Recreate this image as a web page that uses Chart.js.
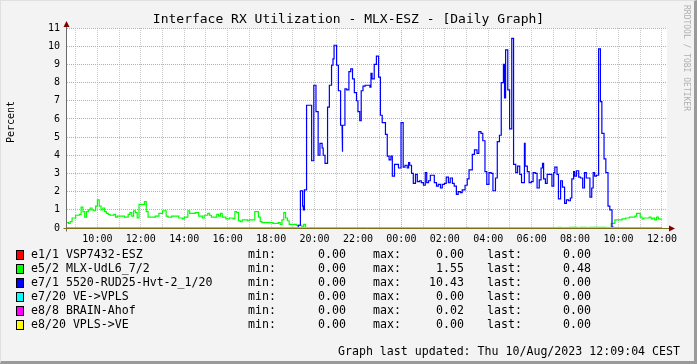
<!DOCTYPE html>
<html><head><meta charset="utf-8">
<script src="https://cdn.jsdelivr.net/npm/chart.js@4/dist/chart.umd.min.js"></script>
<style>
html,body{margin:0;padding:0;}
body{width:697px;height:364px;background:#f3f3f3;position:relative;overflow:hidden;font-family:"DejaVu Sans Mono",monospace;color:#000;}
#frame{position:absolute;left:0;top:0;width:697px;height:364px;box-sizing:border-box;border-top:1px solid #e0e0e0;border-left:1px solid #e0e0e0;border-right:3px solid #9a9a9a;border-bottom:3px solid #9a9a9a;pointer-events:none;}
#c{position:absolute;left:0;top:0;}
.t{position:absolute;white-space:pre;line-height:14px;}
.box{position:absolute;width:6px;height:8px;border:1px solid #000;}
</style></head><body>
<canvas id="c" width="697" height="364"></canvas>
<div id="title" class="t" style="left:0;width:697px;text-align:center;top:11px;font-size:13px;line-height:16px;">Interface RX Utilization - MLX-ESZ - [Daily Graph]</div>
<div class="t" style="left:11px;top:122px;font-size:10px;transform:translate(-50%,-50%) rotate(-90deg);line-height:12px;">Percent</div>
<div class="t" style="left:681px;top:5px;font-size:8px;color:#b0b0b0;writing-mode:vertical-rl;line-height:10px;">RRDTOOL / TOBI OETIKER</div>
<div id="legend"></div>
<div class="t" style="right:17px;top:344px;font-size:11.6px;">Graph last updated: Thu 10/Aug/2023 12:09:04 CEST</div>
<div id="frame"></div>
<script>
// ---- data ----
const seriesLabels = ["e1/1 VSP7432-ESZ", "e5/2 MLX-UdL6_7/2", "e7/1 5520-RUD25-Hvt-2_1/20", "e7/20 VE->VPLS", "e8/8 BRAIN-Ahof", "e8/20 VPLS->VE"];
const seriesColors = ["#ff0000", "#00ff00", "#0000ff", "#00ffff", "#ff00ff", "#ffff00"];
const legendMin  = ["0.00", "0.00", "0.00", "0.00", "0.00", "0.00"];
const legendMax  = ["0.00", "1.55", "10.43", "0.00", "0.02", "0.00"];
const legendLast = ["0.00", "0.48", "0.00", "0.00", "0.00", "0.00"];

// segment boundaries (HH:MM, rolling into next day) and the value held in each segment
const redTimes  = ["08:35", "00:00", "12:00"];
const redValues = [0, 0];

const greenTimes = ["08:35","08:40","08:45","08:50","09:00","09:10","09:15","09:20","09:25","09:30","09:35","09:40","09:45","09:50","09:55","10:00","10:05","10:10","10:15","10:20","10:25","10:30","10:35","10:45","10:50","10:55","11:15","11:25","11:30","11:35","11:40","11:45","11:50","11:55","12:10","12:15","12:20","12:40","12:50","13:00","13:10","13:15","13:25","13:45","13:55","14:00","14:10","14:15","14:30","14:40","14:50","14:55","15:05","15:10","15:15","15:30","15:35","15:40","15:45","15:55","16:05","16:15","16:20","16:25","16:30","16:35","16:40","16:55","17:00","17:15","17:25","17:30","17:35","18:05","18:20","18:25","18:30","18:35","18:40","18:45","18:50","19:10","19:25","19:30","19:35","07:15","07:20","07:45","08:05","08:15","08:30","08:40","09:25","09:40","09:50","10:10","10:20","10:30","10:45","10:50","11:00","11:05","11:10","11:25","11:30","11:35","11:40","11:45","11:50","11:55","12:00"];
const greenValues = [0.3,0.25,0.35,0.55,0.7,0.75,1.15,0.9,0.6,0.9,1.0,1.1,1.0,0.95,1.2,1.55,1.2,1.0,1.1,0.9,0.8,0.75,0.7,0.75,0.6,0.65,0.6,0.75,0.85,0.65,0.95,0.85,0.55,1.3,1.45,0.9,0.6,0.65,0.8,0.95,0.65,0.6,0.65,0.55,0.5,0.6,0.95,0.8,0.85,0.65,0.55,0.7,0.8,0.7,0.6,0.75,0.65,0.8,0.6,0.5,0.55,0.5,0.9,0.85,0.4,0.35,0.45,0.4,0.45,0.9,0.6,0.35,0.3,0.25,0.3,0.2,0.45,0.85,0.55,0.4,0.2,0.15,0.05,0.2,0,0.04,0,0.04,0,0.04,0,0.04,0,0.25,0.45,0.5,0.55,0.6,0.65,0.8,0.6,0.5,0.55,0.6,0.5,0.55,0.45,0.6,0.5,0.48];

const blueTimes = ["08:35","19:15","19:21","19:27","19:29","19:32","19:38","19:52","19:58","20:04","20:10","20:15","20:21","20:24","20:29","20:36","20:41","20:47","20:51","20:54","21:01","21:06","21:12","21:16","21:18","21:24","21:29","21:35","21:40","21:45","21:50","21:56","22:00","22:05","22:09","22:14","22:20","22:33","22:36","22:39","22:45","22:51","22:57","23:02","23:07","23:16","23:21","23:26","23:31","23:35","23:41","23:52","23:59","00:05","00:10","00:16","00:20","00:23","00:28","00:33","00:39","00:44","00:50","00:55","01:01","01:06","01:10","01:15","01:20","01:31","01:37","01:42","01:48","01:53","01:59","02:04","02:10","02:15","02:21","02:26","02:32","02:37","02:43","02:48","02:56","03:02","03:07","03:16","03:22","03:29","03:34","03:40","03:45","03:51","03:56","04:02","04:08","04:13","04:20","04:25","04:31","04:36","04:42","04:45","04:48","04:54","04:59","05:05","05:10","05:16","05:21","05:27","05:32","05:40","05:42","05:48","05:53","05:59","06:04","06:10","06:15","06:21","06:26","06:30","06:33","06:38","06:43","06:56","07:01","07:04","07:10","07:14","07:20","07:25","07:31","07:36","07:42","07:47","07:51","07:56","07:59","08:04","08:10","08:15","08:21","08:26","08:31","08:41","08:46","08:50","08:54","08:59","09:05","09:10","09:14","09:20","09:25","09:31","09:36","09:42","09:45","12:00"];
const blueValues = [0,0.15,2.05,1.2,1.0,2.1,6.75,3.7,7.85,6.4,4.0,4.65,4.4,4.0,3.55,6.65,7.85,8.95,9.3,10.05,8.95,7.55,5.65,4.2,5.65,7.65,7.6,8.6,8.75,8.2,7.45,7.0,6.4,5.9,7.55,7.8,7.85,7.75,8.5,8.2,9.0,9.45,8.3,6.2,5.8,5.15,3.95,3.75,3.95,2.85,3.5,3.3,5.8,3.35,3.45,3.3,3.6,3.45,3.0,2.45,2.95,2.55,2.6,2.5,2.35,3.05,2.5,2.6,2.9,2.5,2.3,2.4,2.2,2.4,2.45,2.8,2.5,2.75,2.45,2.3,1.85,2.0,1.95,2.1,2.35,2.7,3.2,4.05,4.3,4.1,5.3,5.2,4.8,3.1,2.4,3.05,3.0,2.05,2.75,4.75,5.1,8.0,9.0,7.15,9.8,7.6,5.45,10.43,3.5,3.05,3.4,2.95,2.5,4.65,3.4,3.1,2.5,2.55,3.05,3.0,2.2,2.65,3.3,3.55,2.7,2.45,2.95,2.3,3.05,3.35,2.95,1.6,2.6,2.25,1.35,1.55,1.5,1.65,2.7,3.1,2.85,3.15,2.8,2.75,2.2,3.05,2.75,1.7,2.2,3.05,2.85,2.9,9.85,6.95,5.2,3.8,3.05,1.2,1.0,0.05,0];

const cyanTimes  = ["08:35", "00:00", "12:00"];
const cyanValues = [0, 0];
const magentaTimes  = ["08:35", "03:00", "03:05", "12:00"];
const magentaValues = [0, 0.02, 0];
const yellowTimes  = ["08:35", "00:00", "12:00"];
const yellowValues = [0, 0];

const yTicks = [0,1,2,3,4,5,6,7,8,9,10,11];
const xStart = "08:36", xEnd = "12:14"; // axis range (end on next day)

// ---- helpers ----
function toHours(times) {
  let day = 0, prev = -1;
  return times.map(s => {
    const [h, m] = s.split(':').map(Number);
    const v = h * 60 + m;
    if (v < prev) day++;
    prev = v;
    return (v + day * 1440) / 60;
  });
}
function stepPoints(times, values) {
  const t = toHours(times), pts = [];
  for (let i = 0; i < values.length; i++) {
    pts.push({x: t[i], y: values[i]}, {x: t[i + 1], y: values[i]});
  }
  return pts;
}
const [xMin] = toHours([xStart]);
const xMax = toHours([xEnd])[0] + 24;

const allTimes = [redTimes, greenTimes, blueTimes, cyanTimes, magentaTimes, yellowTimes];
const allValues = [redValues, greenValues, blueValues, cyanValues, magentaValues, yellowValues];

// legend (HTML text)
const lg = document.getElementById('legend');
function addText(left, right, top, txt) {
  const d = document.createElement('div');
  d.className = 't';
  d.style.top = top + 'px';
  d.style.fontSize = '11.6px';
  if (left !== null) d.style.left = left + 'px'; else d.style.right = right + 'px';
  d.textContent = txt;
  lg.appendChild(d);
}
seriesLabels.forEach((lab, i) => {
  const cy = 254 + i * 14;
  const b = document.createElement('div');
  b.className = 'box';
  b.style.left = '16px'; b.style.top = (cy - 4) + 'px'; b.style.background = seriesColors[i];
  lg.appendChild(b);
  addText(31, null, cy - 7, lab);
  addText(248, null, cy - 7, 'min:');
  addText(null, 697 - 346, cy - 7, legendMin[i]);
  addText(373, null, cy - 7, 'max:');
  addText(null, 697 - 464, cy - 7, legendMax[i]);
  addText(487, null, cy - 7, 'last:');
  addText(null, 697 - 591, cy - 7, legendLast[i]);
});

const pad2 = n => String(n).padStart(2, '0');

const plotPlugin = {
  id: 'rrd',
  beforeDraw(chart) {
    const {ctx, chartArea: a} = chart;
    ctx.save();
    ctx.fillStyle = '#ffffff';
    ctx.fillRect(a.left, a.top, a.right - a.left, a.bottom - a.top);
    ctx.restore();
  },
  afterDatasetsDraw(chart) {
    const {ctx, chartArea: a} = chart;
    const y0 = Math.round(chart.scales.y.getPixelForValue(0)) + 0.5;
    const x0 = Math.round(a.left) - 0.5;
    ctx.save();
    ctx.strokeStyle = '#6b6b6b';
    ctx.lineWidth = 1;
    ctx.beginPath(); ctx.moveTo(x0, a.top - 4); ctx.lineTo(x0, y0 + 3); ctx.stroke();
    ctx.strokeStyle = '#7f6f14';
    ctx.beginPath(); ctx.moveTo(x0 - 3, y0); ctx.lineTo(a.right + 4, y0); ctx.stroke();
    ctx.fillStyle = '#7f0000';
    ctx.beginPath(); ctx.moveTo(x0, a.top - 7); ctx.lineTo(x0 - 3, a.top - 1); ctx.lineTo(x0 + 3, a.top - 1); ctx.closePath(); ctx.fill();
    ctx.beginPath(); ctx.moveTo(a.right + 8, y0); ctx.lineTo(a.right + 2, y0 - 3); ctx.lineTo(a.right + 2, y0 + 3); ctx.closePath(); ctx.fill();
    ctx.restore();
  }
};

const datasets = allTimes.map((t, i) => ({
  label: seriesLabels[i],
  data: stepPoints(t, allValues[i]),
  borderColor: seriesColors[i],
  borderWidth: 1.2,
  pointRadius: 0,
  fill: false,
  tension: 0,
  order: 6 - i
}));

new Chart(document.getElementById('c'), {
  type: 'line',
  data: {datasets},
  options: {
    responsive: false,
    animation: false,
    devicePixelRatio: 1,
    layout: {padding: {left: 0, top: 28, right: 30, bottom: 0}},
    plugins: {legend: {display: false}, title: {display: false}, tooltip: {enabled: false}},
    scales: {
      x: {
        type: 'linear', min: xMin, max: xMax,
        afterFit: s => { s.height = 136; },
        border: {display: false, dash: [1, 1]},
        grid: {drawTicks: false, lineWidth: 1,
               color: c => (c.tick && Math.round(c.tick.value) % 24 === 0) ? '#e39a9a' : '#c9c9c9'},
        ticks: {stepSize: 1, includeBounds: false, autoSkip: false, maxRotation: 0, minRotation: 0,
                padding: 5, color: '#000', font: {family: 'DejaVu Sans Mono', size: 10},
                callback: v => (Math.round(v) % 2 === 0) ? pad2(Math.round(v) % 24) + ':00' : ''}
      },
      y: {
        min: yTicks[0], max: yTicks[yTicks.length - 1],
        afterFit: s => { s.width = 67; },
        border: {display: false, dash: [1, 1]},
        grid: {drawTicks: false, lineWidth: 1, color: '#e39a9a'},
        ticks: {stepSize: 1, padding: 7, color: '#000', font: {family: 'DejaVu Sans Mono', size: 10}}
      }
    }
  },
  plugins: [plotPlugin]
});
</script>
</body></html>
